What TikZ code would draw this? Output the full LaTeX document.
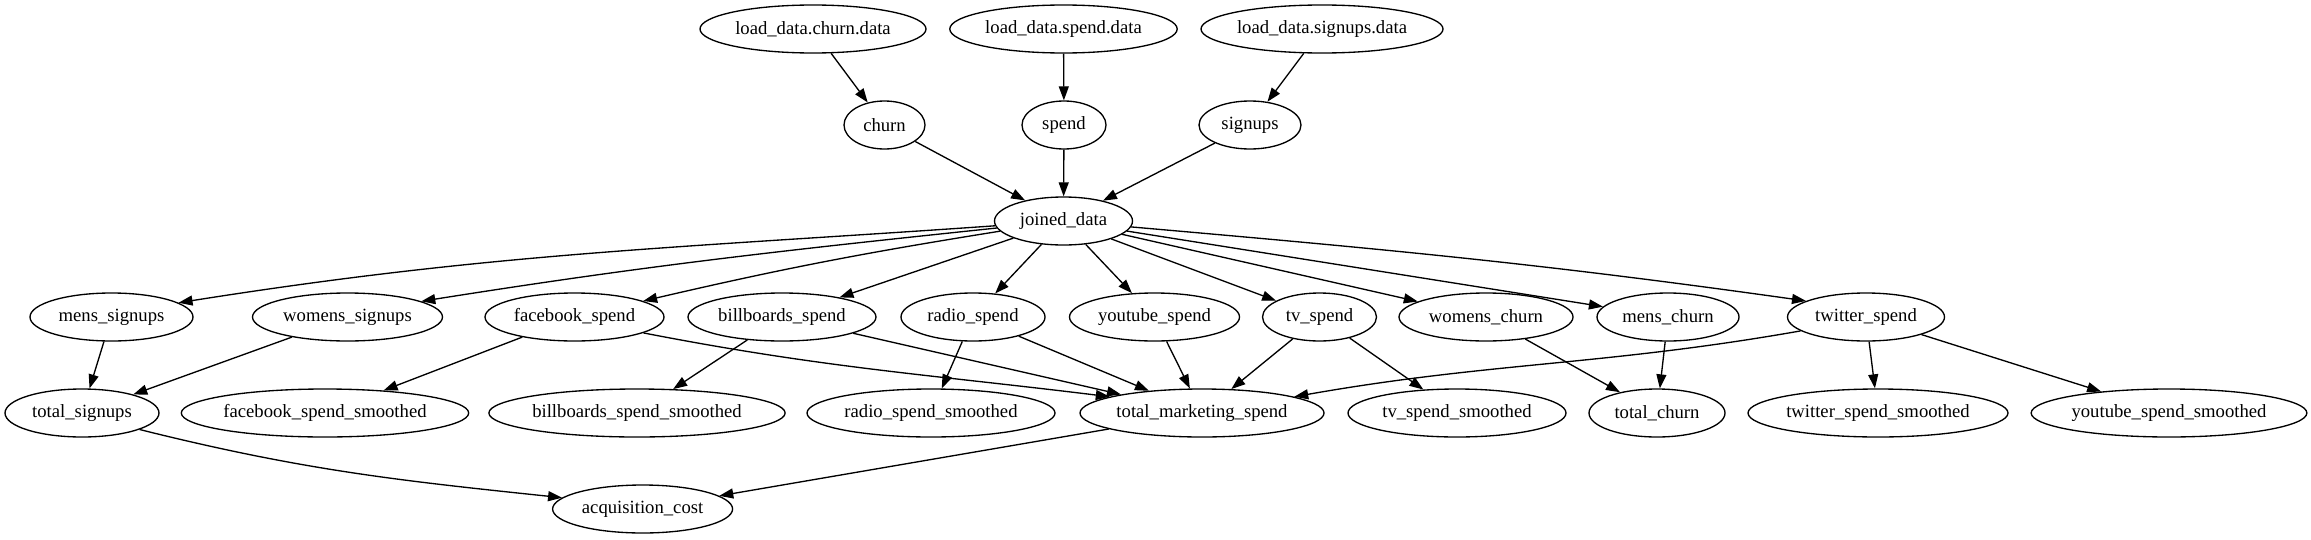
\documentclass[tikz,border=0pt]{standalone}
\usepackage{fontspec}
\setmainfont{Liberation Serif}
\usetikzlibrary{shapes.geometric,arrows.meta}
\begin{document}
\begin{tikzpicture}[x=0.75pt,y=0.75pt,
  nd/.style={draw, ellipse, line width=1pt, inner sep=0pt, minimum height=36pt,
    font=\fontsize{14}{16}\selectfont},
  hw/.style={minimum width=#1*1.5pt},
  edge/.style={line width=1pt, -{Triangle[length=10.5pt,width=7.5pt]}}]
\useasboundingbox (0,0) rectangle (2311,-539);
% row 0
\node[nd,hw=113]   (ldchurn)   at (813,-29)    {load\_data.churn.data};
\node[nd,hw=113.7] (ldspend)   at (1063.5,-29) {load\_data.spend.data};
\node[nd,hw=121]   (ldsignups) at (1322,-29)   {load\_data.signups.data};
% row 1
\node[nd,hw=40.5] (churn)   at (884.5,-125) {churn};
\node[nd,hw=42]   (spend)   at (1064,-125)  {spend};
\node[nd,hw=51]   (signups) at (1250,-125)  {signups};
% row 2
\node[nd,hw=69] (joined) at (1063.5,-221) {joined\_data};
% row 3
\node[nd,hw=81.5] (menss)   at (111.5,-317)  {mens\_signups};
\node[nd,hw=95]   (womenss) at (347.5,-317)  {womens\_signups};
\node[nd,hw=89.5] (fb)      at (574.5,-317)  {facebook\_spend};
\node[nd,hw=94]   (bb)      at (782,-317)    {billboards\_spend};
\node[nd,hw=72]   (radio)   at (973,-317)    {radio\_spend};
\node[nd,hw=85]   (yt)      at (1154.5,-317) {youtube\_spend};
\node[nd,hw=57]   (tv)      at (1319.5,-317) {tv\_spend};
\node[nd,hw=87]   (womensc) at (1486,-317)   {womens\_churn};
\node[nd,hw=71]   (mensc)   at (1668,-317)   {mens\_churn};
\node[nd,hw=78.5] (tw)      at (1866,-317)   {twitter\_spend};
% row 4
\node[nd,hw=77]    (ts)   at (82,-413)   {total\_signups};
\node[nd,hw=142.5] (fbs)  at (325,-413)  {facebook\_spend\_smoothed};
\node[nd,hw=146.5] (bbs)  at (637,-413)  {billboards\_spend\_smoothed};
\node[nd,hw=124]   (rs)   at (931,-413)  {radio\_spend\_smoothed};
\node[nd,hw=122]   (tms)  at (1202,-413) {total\_marketing\_spend};
\node[nd,hw=109]   (tvs)  at (1457,-413) {tv\_spend\_smoothed};
\node[nd,hw=68]    (tc)   at (1657,-413) {total\_churn};
\node[nd,hw=130]   (tws)  at (1878,-413) {twitter\_spend\_smoothed};
\node[nd,hw=137.5] (yts)  at (2169,-413) {youtube\_spend\_smoothed};
% row 5
\node[nd,hw=90] (acq) at (642.6,-509) {acquisition\_cost};
% edges
\draw[edge] (ldchurn) -- (churn);
\draw[edge] (ldspend) -- (spend);
\draw[edge] (ldsignups) -- (signups);
\draw[edge] (churn) -- (joined);
\draw[edge] (spend) -- (joined);
\draw[edge] (signups) -- (joined);
\draw[edge] (joined.184) to[out=184,in=9] (menss.12);
\draw[edge] (joined.186) to[out=186,in=9] (womenss.12);
\draw[edge] (joined) to[bend right=2] (fb);
\draw[edge] (joined) -- (bb);
\draw[edge] (joined) -- (radio);
\draw[edge] (joined) -- (yt);
\draw[edge] (joined) -- (tv);
\draw[edge] (joined) -- (womensc);
\draw[edge] (joined) -- (mensc);
\draw[edge] (joined.-5) to[out=-5,in=172] (tw.165);
\draw[edge] (menss) -- (ts);
\draw[edge] (womenss) -- (ts);
\draw[edge] (fb) -- (fbs);
\draw[edge] (fb.-13) to[out=-11,in=173] (tms.170);
\draw[edge] (bb) -- (bbs);
\draw[edge] (bb) -- (tms);
\draw[edge] (radio) -- (rs);
\draw[edge] (radio) -- (tms);
\draw[edge] (yt) -- (tms);
\draw[edge] (tv) -- (tms);
\draw[edge] (tv) -- (tvs);
\draw[edge] (womensc) -- (tc);
\draw[edge] (mensc) -- (tc);
\draw[edge] (tw.192) to[out=190,in=10] (tms.10);
\draw[edge] (tw) -- (tws);
\draw[edge] (tw) -- (yts);
\draw[edge] (ts.-16) to[out=-14,in=174] (acq.172);
\draw[edge] (tms) -- (acq);
\end{tikzpicture}
\end{document}
